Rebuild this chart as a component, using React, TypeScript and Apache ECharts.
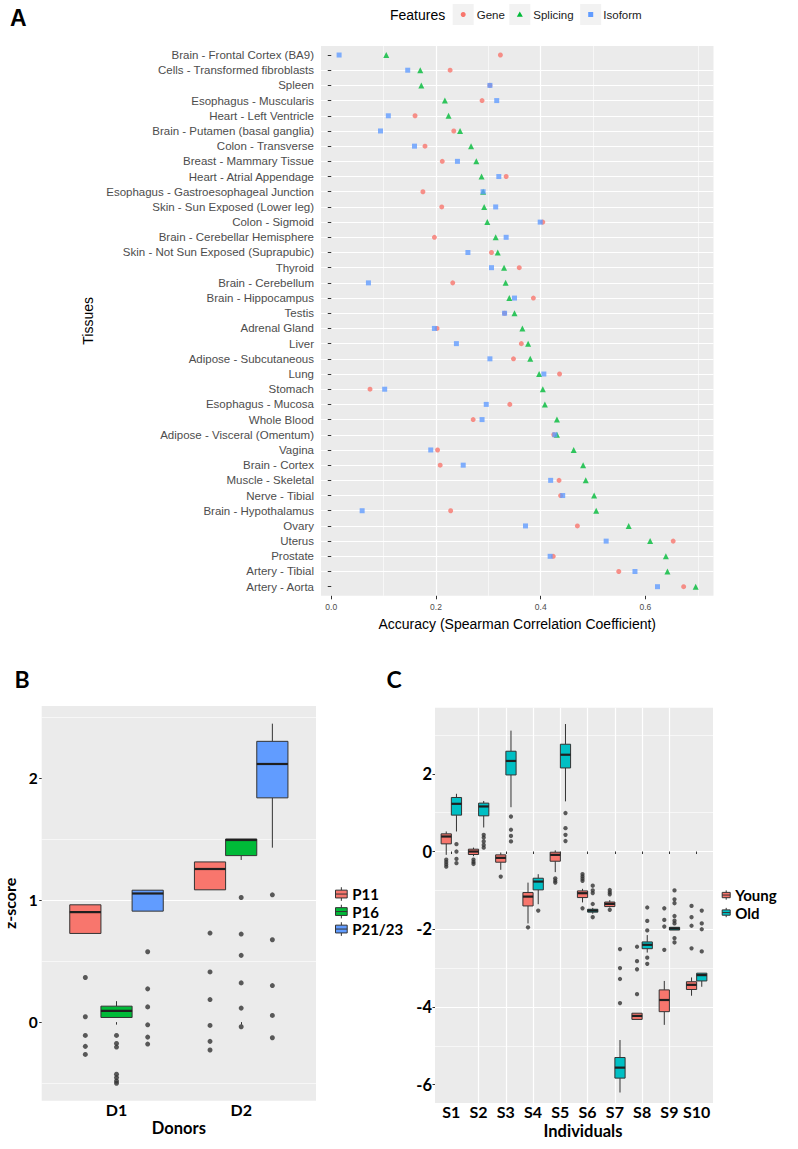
import React, { useEffect, useRef } from "react";
import * as echarts from "echarts";

// ---------------- Panel A data ----------------
const tissues = [
  "Brain - Frontal Cortex (BA9)",
  "Cells - Transformed fibroblasts",
  "Spleen",
  "Esophagus - Muscularis",
  "Heart - Left Ventricle",
  "Brain - Putamen (basal ganglia)",
  "Colon - Transverse",
  "Breast - Mammary Tissue",
  "Heart - Atrial Appendage",
  "Esophagus - Gastroesophageal Junction",
  "Skin - Sun Exposed (Lower leg)",
  "Colon - Sigmoid",
  "Brain - Cerebellar Hemisphere",
  "Skin - Not Sun Exposed (Suprapubic)",
  "Thyroid",
  "Brain - Cerebellum",
  "Brain - Hippocampus",
  "Testis",
  "Adrenal Gland",
  "Liver",
  "Adipose - Subcutaneous",
  "Lung",
  "Stomach",
  "Esophagus - Mucosa",
  "Whole Blood",
  "Adipose - Visceral (Omentum)",
  "Vagina",
  "Brain - Cortex",
  "Muscle - Skeletal",
  "Nerve - Tibial",
  "Brain - Hypothalamus",
  "Ovary",
  "Uterus",
  "Prostate",
  "Artery - Tibial",
  "Artery - Aorta",
];
const geneAcc = [0.323, 0.227, 0.303, 0.288, 0.16, 0.234, 0.179, 0.212, 0.334, 0.175, 0.211, 0.404, 0.197, 0.306, 0.359, 0.232, 0.386, 0.331, 0.202, 0.363, 0.348, 0.436, 0.074, 0.341, 0.271, 0.425, 0.203, 0.208, 0.435, 0.438, 0.228, 0.47, 0.653, 0.424, 0.549, 0.673];
const splicingAcc = [0.105, 0.17, 0.172, 0.217, 0.224, 0.246, 0.267, 0.277, 0.287, 0.29, 0.292, 0.298, 0.314, 0.318, 0.33, 0.333, 0.34, 0.35, 0.365, 0.376, 0.38, 0.397, 0.404, 0.408, 0.431, 0.431, 0.463, 0.481, 0.486, 0.502, 0.506, 0.568, 0.609, 0.639, 0.642, 0.696];
const isoformAcc = [0.015, 0.146, 0.303, 0.316, 0.109, 0.094, 0.159, 0.241, 0.32, 0.29, 0.314, 0.399, 0.334, 0.261, 0.306, 0.071, 0.35, 0.331, 0.197, 0.239, 0.303, 0.406, 0.102, 0.296, 0.288, 0.427, 0.19, 0.252, 0.419, 0.442, 0.059, 0.371, 0.525, 0.418, 0.58, 0.623];
const accTicks = [0, 0.2, 0.4, 0.6];
const featureNames = ["Gene", "Splicing", "Isoform"];

// ---------------- Panel B data ----------------
const donors = ["D1", "D2"];
const passages = ["P11", "P16", "P21/23"];
// [lower whisker, Q1, median, Q3, upper whisker] for D1, D2
const p11Box = [[0.728, 0.728, 0.903, 0.963, 0.963], [1.086, 1.086, 1.257, 1.315, 1.315]];
const p16Box = [[0.038, 0.038, 0.093, 0.131, 0.172], [1.331, 1.367, 1.495, 1.503, 1.503]];
const p2123Box = [[0.911, 0.911, 1.056, 1.083, 1.083], [1.432, 1.841, 2.119, 2.305, 2.45]];
const p11Out = [[0.366, 0.044, -0.109, -0.199, -0.265], [0.731, 0.412, 0.185, -0.027, -0.158, -0.229]];
const p16Out = [[-0.109, -0.175, -0.205, -0.428, -0.455, -0.483, -0.502], [1.023, 0.723, 0.548, 0.322, 0.115, -0.038]];
const p2123Out = [[0.578, 0.273, 0.125, -0.022, -0.123, -0.18], [1.045, 0.676, 0.3, 0.055, -0.128]];
const zTicksB = [0, 1, 2];

// ---------------- Panel C data ----------------
const individuals = ["S1", "S2", "S3", "S4", "S5", "S6", "S7", "S8", "S9", "S10"];
const ageGroups = ["Young", "Old"];
const youngBox = [
  [-0.086, 0.197, 0.386, 0.455, 0.515],
  [-0.12, -0.077, 0.0, 0.06, 0.1],
  [-0.47, -0.275, -0.163, -0.086, -0.026],
  [-1.85, -1.4, -1.16, -1.056, -0.8],
  [-0.53, -0.25, -0.086, -0.017, 0.03],
  [-1.31, -1.185, -1.073, -1.013, -0.96],
  [-1.44, -1.416, -1.347, -1.3, -1.25],
  [-4.32, -4.32, -4.23, -4.16, -4.16],
  [-4.46, -4.12, -3.82, -3.56, -3.33],
  [-3.71, -3.55, -3.43, -3.35, -3.24],
];
const oldBox = [
  [0.515, 0.936, 1.227, 1.39, 1.485],
  [0.618, 0.918, 1.159, 1.245, 1.3],
  [1.14, 1.97, 2.33, 2.58, 3.11],
  [-1.356, -0.987, -0.773, -0.687, -0.584],
  [1.29, 2.15, 2.49, 2.76, 3.28],
  [-1.6, -1.56, -1.52, -1.485, -1.45],
  [-6.2, -5.83, -5.56, -5.3, -4.85],
  [-2.6, -2.5, -2.4, -2.326, -2.15],
  [-2.02, -2.02, -1.98, -1.95, -1.95],
  [-3.48, -3.33, -3.18, -3.13, -3.13],
];
const youngOut = [
  [-0.21, -0.27, -0.33, -0.39],
  [-0.21, -0.27, -0.32],
  [-0.644],
  [-1.95],
  [-0.69, -0.75, -0.8],
  [-0.58, -0.64, -0.7, -0.755, -1.46],
  [-0.99, -1.05, -1.1, -1.5],
  [-2.45, -2.82, -3.03, -3.67],
  [-1.46, -1.76, -1.93, -2.53],
  [-1.4, -1.69, -1.91, -2.49],
];
const oldOut = [
  [0.19, 0.0, -0.19, -0.3],
  [0.43, 0.36, 0.26, 0.17, 0.1],
  [0.9, 0.56, 0.4, 0.26],
  [-1.52],
  [0.99, 0.6, 0.43, 0.27],
  [-0.88, -1.0, -1.07, -1.35, -1.69],
  [-2.51, -3.0, -3.28, -3.9],
  [-1.44, -1.785, -2.03, -2.73, -2.89],
  [-1.0, -1.23, -1.33, -1.66, -1.78, -1.85, -2.23, -2.34],
  [-1.52, -1.85, -2.0, -2.57],
];
const zTicksC = [-6, -4, -2, 0, 2];

// ---------------- styling ----------------
const FA = "'Liberation Sans', Arial, sans-serif";
const FB = "Lato, 'Open Sans', sans-serif";
const RED = "#F8766D";
const GREEN = "#00BA38";
const BLUE = "#619CFF";
const CYAN = "#00BFC4";
const DARK = "#333333";
const PANEL_BG = "#EBEBEB";

const near = (v: number, arr: number[]) => arr.some((t) => Math.abs(t - v) < 1e-6);
const idxOf = (v: number) => Math.round(v);
const isInt = (v: number) => Math.abs(v - Math.round(v)) < 1e-6;

const majorLine = { show: true, lineStyle: { color: "#FFFFFF", width: 1.2 }, showMinLine: false, showMaxLine: false };
const minorLine = { show: true, lineStyle: { color: "#FFFFFF", width: 0.6 } };

function boxSeries(name: string, color: string, stats: number[][], offset: number, widthUnits: number, axisIndex: number) {
  return {
    type: "custom",
    name,
    xAxisIndex: axisIndex,
    yAxisIndex: axisIndex,
    itemStyle: { color },
    encode: { x: 0, y: [1, 2, 3, 4, 5] },
    silent: true,
    data: stats.map((s, i) => [i + 1, ...s]),
    renderItem: (params: any, api: any) => {
      const x = api.value(0) + offset;
      const lo = api.coord([x, api.value(1)]);
      const q1 = api.coord([x, api.value(2)]);
      const md = api.coord([x, api.value(3)]);
      const q3 = api.coord([x, api.value(4)]);
      const hi = api.coord([x, api.value(5)]);
      const hw = api.size([widthUnits, 0])[0] / 2;
      const ls = { stroke: DARK, lineWidth: 1 };
      return {
        type: "group",
        children: [
          { type: "line", shape: { x1: lo[0], y1: lo[1], x2: q1[0], y2: q1[1] }, style: ls },
          { type: "line", shape: { x1: q3[0], y1: q3[1], x2: hi[0], y2: hi[1] }, style: ls },
          {
            type: "rect",
            shape: { x: q3[0] - hw, y: q3[1], width: hw * 2, height: q1[1] - q3[1] },
            style: { fill: color, stroke: DARK, lineWidth: 1 },
          },
          { type: "line", shape: { x1: md[0] - hw, y1: md[1], x2: md[0] + hw, y2: md[1] }, style: { stroke: "#1F1F1F", lineWidth: 2.2 } },
        ],
      };
    },
  };
}

function outlierSeries(name: string, outs: number[][], offset: number, axisIndex: number, size: number) {
  const data: number[][] = [];
  outs.forEach((arr, i) => arr.forEach((v) => data.push([i + 1 + offset, v])));
  return {
    type: "scatter",
    name,
    xAxisIndex: axisIndex,
    yAxisIndex: axisIndex,
    symbol: "circle",
    symbolSize: size,
    silent: true,
    itemStyle: { color: DARK },
    data,
  };
}

const boxIcon = "path://M0,3L12,3L12,11L0,11Z M6,0L6,3 M6,11L6,14 M0,7L12,7";

function buildOption(): any {
  const bStats = [p11Box, p16Box, p2123Box];
  const bOuts = [p11Out, p16Out, p2123Out];
  const bColors = [RED, GREEN, BLUE];
  const cStats = [youngBox, oldBox];
  const cOuts = [youngOut, oldOut];
  const cColors = [RED, CYAN];

  const series: any[] = [
    {
      type: "scatter", name: featureNames[0], xAxisIndex: 0, yAxisIndex: 0, symbol: "circle", symbolSize: 5, silent: true,
      itemStyle: { color: RED }, data: geneAcc.map((v, i) => [v, i + 1]),
    },
    {
      type: "scatter", name: featureNames[1], xAxisIndex: 0, yAxisIndex: 0, symbol: "triangle", symbolSize: 6, silent: true,
      itemStyle: { color: GREEN }, data: splicingAcc.map((v, i) => [v, i + 1]),
    },
    {
      type: "scatter", name: featureNames[2], xAxisIndex: 0, yAxisIndex: 0, symbol: "rect", symbolSize: 5, silent: true,
      itemStyle: { color: BLUE }, data: isoformAcc.map((v, i) => [v, i + 1]),
    },
  ];
  passages.forEach((p, k) => {
    const off = (k - 1) * 0.25;
    series.push(boxSeries(p, bColors[k], bStats[k], off, 0.25, 1));
    series.push(outlierSeries(p, bOuts[k], off, 1, 5));
  });
  ageGroups.forEach((g, k) => {
    const off = (k === 0 ? -1 : 1) * 0.1875;
    series.push(boxSeries(g, cColors[k], cStats[k], off, 0.375, 2));
    series.push(outlierSeries(g, cOuts[k], off, 2, 4.3));
  });

  const gridBase = { show: true, backgroundColor: PANEL_BG, borderWidth: 0, containLabel: false, outerBoundsMode: "none" };
  const boldLabel = { fontFamily: FB, fontWeight: "bold", color: "#000000" };

  return {
    animation: false,
    backgroundColor: "#FFFFFF",
    grid: [
      { ...gridBase, left: 321, top: 45.9, width: 392.5, height: 549.9 },
      { ...gridBase, left: 41.7, top: 706, width: 274.3, height: 394.7 },
      { ...gridBase, left: 435, top: 707.7, width: 278, height: 395.3 },
    ],
    xAxis: [
      {
        gridIndex: 0, type: "value", min: -0.0196, max: 0.73, splitNumber: 4,
        axisLine: { show: false },
        axisTick: { show: true, length: 3.5, lineStyle: { color: DARK, width: 1 }, customValues: accTicks },
        axisLabel: { margin: 7, fontSize: 8.5, color: "#4D4D4D", fontFamily: FA, formatter: (v: number) => (near(v, accTicks) ? v.toFixed(1) : "") },
        splitLine: majorLine,
        minorTick: { show: false, splitNumber: 2 },
        minorSplitLine: minorLine,
        name: "Accuracy (Spearman Correlation Coefficient)", nameLocation: "middle", nameGap: 21, nameMoveOverlap: false,
        nameTextStyle: { fontFamily: FA, fontSize: 14, color: "#000000" },
      },
      {
        gridIndex: 1, type: "value", min: 0.4, max: 2.6, splitNumber: 2,
        axisLine: { show: false },
        axisTick: { show: true, length: 2.5, lineStyle: { color: DARK, width: 1 }, customValues: donors.map((_, i) => i + 1) },
        axisLabel: { ...boldLabel, margin: 1, fontSize: 16, formatter: (v: number) => (isInt(v) && donors[idxOf(v) - 1] ? donors[idxOf(v) - 1] : "") },
        splitLine: majorLine,
        name: "Donors", nameLocation: "middle", nameGap: 19, nameMoveOverlap: false,
        nameTextStyle: { ...boldLabel, fontSize: 16.5 },
      },
      {
        gridIndex: 2, type: "value", min: 0.4, max: 10.6, splitNumber: 10,
        axisLine: { show: false },
        axisTick: { show: true, length: 2.5, lineStyle: { color: DARK, width: 1 }, customValues: individuals.map((_, i) => i + 1) },
        axisLabel: { ...boldLabel, margin: 0, fontSize: 16, formatter: (v: number) => (isInt(v) && individuals[idxOf(v) - 1] ? individuals[idxOf(v) - 1] : "") },
        splitLine: majorLine,
        name: "Individuals", nameLocation: "middle", nameGap: 19, nameMoveOverlap: false,
        nameTextStyle: { ...boldLabel, fontSize: 16.5, padding: [0, 0, 0, 18] },
      },
    ],
    yAxis: [
      {
        gridIndex: 0, type: "value", inverse: true, min: 0.4, max: 36.6, splitNumber: 36,
        axisLine: { show: false },
        axisTick: { show: true, length: 3.5, lineStyle: { color: DARK, width: 1 }, customValues: tissues.map((_, i) => i + 1) },
        axisLabel: {
          margin: 7, fontSize: 11.5, color: "#4D4D4D", fontFamily: FA,
          formatter: (v: number) => (isInt(v) && tissues[idxOf(v) - 1] ? tissues[idxOf(v) - 1] : ""),
        },
        splitLine: majorLine,
        name: "Tissues", nameLocation: "middle", nameRotate: 90, nameGap: 226, nameMoveOverlap: false,
        nameTextStyle: { fontFamily: FA, fontSize: 14, color: "#000000" },
      },
      {
        gridIndex: 1, type: "value", min: -0.645, max: 2.595, splitNumber: 3,
        axisLine: { show: false },
        axisTick: { show: true, length: 2.5, lineStyle: { color: DARK, width: 1 }, customValues: zTicksB },
        axisLabel: { ...boldLabel, margin: 4, fontSize: 15.5, formatter: (v: number) => (near(v, zTicksB) ? String(Math.round(v)) : "") },
        splitLine: majorLine,
        minorTick: { show: false, splitNumber: 2 },
        minorSplitLine: minorLine,
        name: "z-score", nameLocation: "middle", nameRotate: 90, nameGap: 24, nameMoveOverlap: false,
        nameTextStyle: { ...boldLabel, fontSize: 16 },
      },
      {
        gridIndex: 2, type: "value", min: -6.47, max: 3.7, splitNumber: 5,
        axisLine: { show: false },
        axisTick: { show: true, length: 2.5, lineStyle: { color: DARK, width: 1 }, customValues: zTicksC },
        axisLabel: { ...boldLabel, margin: 3, fontSize: 16.5, formatter: (v: number) => (near(v, zTicksC) ? String(Math.round(v)) : "") },
        splitLine: majorLine,
        minorTick: { show: false, splitNumber: 2 },
        minorSplitLine: minorLine,
      },
    ],
    legend: [
      {
        orient: "vertical", left: 335, top: 885.3, padding: 0, itemGap: 0, itemWidth: 11.7, itemHeight: 14,
        selectedMode: false,
        textStyle: { ...boldLabel, fontSize: 15, lineHeight: 17.5 },
        data: passages.map((p, k) => ({ name: p, icon: boxIcon, itemStyle: { color: bColors[k], borderColor: DARK, borderWidth: 1 } })),
      },
      {
        orient: "vertical", left: 721.7, top: 886.3, padding: 0, itemGap: 0, itemWidth: 8, itemHeight: 14,
        selectedMode: false,
        textStyle: { ...boldLabel, fontSize: 15, lineHeight: 17.5 },
        data: ageGroups.map((g, k) => ({ name: g, icon: boxIcon, itemStyle: { color: cColors[k], borderColor: DARK, borderWidth: 1 } })),
      },
    ],
    graphic: {
      elements: [
        { type: "text", x: 10, y: 17.7, silent: true, style: { text: "A", fontFamily: FA, fontWeight: "bold", fontSize: 23, fill: "#000", textVerticalAlign: "middle", verticalAlign: "middle" } },
        { type: "text", x: 14.5, y: 678.5, silent: true, style: { text: "B", fontFamily: FB, fontWeight: "bold", fontSize: 23, fill: "#000", textVerticalAlign: "middle", verticalAlign: "middle" } },
        { type: "text", x: 386.5, y: 678.5, silent: true, style: { text: "C", fontFamily: FB, fontWeight: "bold", fontSize: 23, fill: "#000", textVerticalAlign: "middle", verticalAlign: "middle" } },
        { type: "text", x: 390, y: 14.5, silent: true, style: { text: "Features", fontFamily: FA, fontSize: 14, fill: "#000", textVerticalAlign: "middle", verticalAlign: "middle" } },
        { type: "rect", silent: true, shape: { x: 452.7, y: 4, width: 21, height: 21 }, style: { fill: "#F2F2F2" } },
        { type: "rect", silent: true, shape: { x: 509.3, y: 4, width: 21, height: 21 }, style: { fill: "#F2F2F2" } },
        { type: "rect", silent: true, shape: { x: 580.2, y: 4, width: 21, height: 21 }, style: { fill: "#F2F2F2" } },
        { type: "circle", silent: true, shape: { cx: 463.2, cy: 14.5, r: 2.5 }, style: { fill: RED } },
        { type: "polygon", silent: true, shape: { points: [[519.8, 11.5], [522.8, 16.8], [516.8, 16.8]] }, style: { fill: GREEN } },
        { type: "rect", silent: true, shape: { x: 588.2, y: 12, width: 5, height: 5 }, style: { fill: BLUE } },
        { type: "text", x: 476.7, y: 14.5, silent: true, style: { text: featureNames[0], fontFamily: FA, fontSize: 11.5, fill: "#1A1A1A", textVerticalAlign: "middle", verticalAlign: "middle" } },
        { type: "text", x: 533.3, y: 14.5, silent: true, style: { text: featureNames[1], fontFamily: FA, fontSize: 11.5, fill: "#1A1A1A", textVerticalAlign: "middle", verticalAlign: "middle" } },
        { type: "text", x: 603.3, y: 14.5, silent: true, style: { text: featureNames[2], fontFamily: FA, fontSize: 11.5, fill: "#1A1A1A", textVerticalAlign: "middle", verticalAlign: "middle" } },
      ],
    },
    series,
  };
}

export default function App() {
  const ref = useRef<HTMLDivElement>(null);
  useEffect(() => {
    document.body.style.margin = "0";
    const chart = echarts.init(ref.current as HTMLDivElement, null, { renderer: "svg" });
    chart.setOption(buildOption());
    return () => chart.dispose();
  }, []);
  return <div ref={ref} style={{ width: 798, height: 1149 }} />;
}
